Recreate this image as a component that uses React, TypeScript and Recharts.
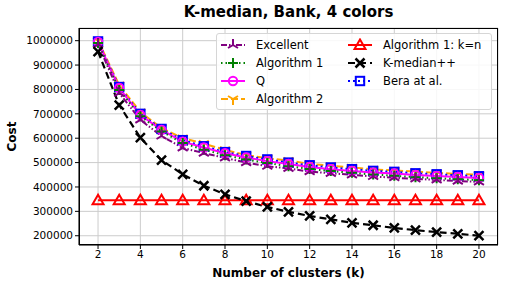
import React from "react";
import {
  LineChart,
  Line,
  XAxis,
  YAxis,
  CartesianGrid,
} from "recharts";

const FONT = "DejaVu Sans";

const clusters = [2, 3, 4, 5, 6, 7, 8, 9, 10, 11, 12, 13, 14, 15, 16, 17, 18, 19, 20];

const excellent = [985000, 785000, 675000, 609000, 560000, 539000, 519000, 500000, 485000, 476000, 463000, 456000, 450000, 443000, 438000, 433000, 429000, 424000, 421000];
const algorithm1 = [990000, 798000, 690000, 628000, 580000, 553000, 530000, 513000, 498000, 485000, 474000, 465000, 458000, 451000, 446000, 440000, 436000, 432000, 428000];
const qValues = [995000, 806000, 695000, 634000, 586000, 562000, 538000, 521000, 506000, 494000, 482000, 473000, 466000, 459000, 455000, 449000, 445000, 441000, 437000];
const algorithm2 = [1000000, 818000, 707000, 642000, 600000, 578000, 552000, 531000, 518000, 508000, 495000, 487000, 480000, 472000, 468000, 463000, 458000, 453000, 450000];
const algorithm1kn = [346000, 346000, 346000, 346000, 346000, 346000, 346000, 346000, 346000, 346000, 346000, 346000, 346000, 346000, 346000, 346000, 346000, 346000, 346000];
const kmedianpp = [955000, 736000, 602000, 510000, 452000, 405000, 370000, 342000, 318000, 298000, 281000, 267000, 253000, 243000, 232000, 223000, 215000, 208000, 200000];
const bera = [997000, 810000, 700000, 638000, 592000, 567000, 543000, 527000, 513000, 500000, 489000, 480000, 473000, 466000, 462000, 456000, 452000, 448000, 444000];

const xTicks = [2, 4, 6, 8, 10, 12, 14, 16, 18, 20];
const yTicks = [200000, 300000, 400000, 500000, 600000, 700000, 800000, 900000, 1000000];

const data = clusters.map((k, i) => ({
  k,
  excellent: excellent[i],
  algorithm1: algorithm1[i],
  q: qValues[i],
  algorithm2: algorithm2[i],
  algorithm1kn: algorithm1kn[i],
  kmedianpp: kmedianpp[i],
  bera: bera[i],
}));

type MarkerKind = "triUp" | "triDown" | "plus" | "circle" | "triangle" | "x" | "square";

function Marker({ kind, cx, cy, color }: { kind: MarkerKind; cx: number; cy: number; color: string }) {
  const s = 5;
  switch (kind) {
    case "triUp":
      return (
        <path
          d={`M${cx},${cy} L${cx},${cy - s - 1} M${cx},${cy} L${cx - s},${cy + s * 0.6} M${cx},${cy} L${cx + s},${cy + s * 0.6}`}
          stroke={color}
          strokeWidth={2}
          fill="none"
        />
      );
    case "triDown":
      return (
        <path
          d={`M${cx},${cy} L${cx},${cy + s + 1} M${cx},${cy} L${cx - s},${cy - s * 0.6} M${cx},${cy} L${cx + s},${cy - s * 0.6}`}
          stroke={color}
          strokeWidth={2}
          fill="none"
        />
      );
    case "plus":
      return (
        <path
          d={`M${cx - 5},${cy} L${cx + 5},${cy} M${cx},${cy - 5} L${cx},${cy + 5}`}
          stroke={color}
          strokeWidth={2}
          fill="none"
        />
      );
    case "circle":
      return <circle cx={cx} cy={cy} r={4.2} stroke={color} strokeWidth={2} fill="none" />;
    case "triangle":
      return (
        <path
          d={`M${cx},${cy - 5.5} L${cx - 5.5},${cy + 4} L${cx + 5.5},${cy + 4} Z`}
          stroke={color}
          strokeWidth={2}
          fill="none"
        />
      );
    case "x":
      return (
        <path
          d={`M${cx - 4.5},${cy - 4.5} L${cx + 4.5},${cy + 4.5} M${cx - 4.5},${cy + 4.5} L${cx + 4.5},${cy - 4.5}`}
          stroke={color}
          strokeWidth={2.5}
          fill="none"
        />
      );
    case "square":
      return <rect x={cx - 4.2} y={cy - 4.2} width={8.4} height={8.4} stroke={color} strokeWidth={2} fill="none" />;
  }
}

const series: { key: string; name: string; color: string; dash?: string; marker: MarkerKind; width: number }[] = [
  { key: "excellent", name: "Excellent", color: "#800080", dash: "6 2 1.5 2 1.5 2", marker: "triUp", width: 2 },
  { key: "algorithm1", name: "Algorithm 1", color: "#008000", dash: "1.5 3", marker: "plus", width: 2 },
  { key: "q", name: "Q", color: "#ff00ff", marker: "circle", width: 2 },
  { key: "algorithm2", name: "Algorithm 2", color: "#ffa500", dash: "7 3", marker: "triDown", width: 2 },
  { key: "algorithm1kn", name: "Algorithm 1: k=n", color: "#ff0000", marker: "triangle", width: 2 },
  { key: "kmedianpp", name: "K-median++", color: "#000000", dash: "7 4", marker: "x", width: 2.2 },
  { key: "bera", name: "Bera at al.", color: "#0000ff", dash: "2 3", marker: "square", width: 2 },
];

// drawing order: back to front
const drawOrder = ["algorithm2", "bera", "q", "algorithm1", "excellent", "algorithm1kn", "kmedianpp"];

function LegendHandle({ s }: { s: (typeof series)[number] }) {
  return (
    <svg width={26} height={14} style={{ display: "block", flex: "none" }}>
      <line x1={1} y1={7} x2={25} y2={7} stroke={s.color} strokeWidth={s.width} strokeDasharray={s.dash} />
      <Marker kind={s.marker} cx={13} cy={7} color={s.color} />
    </svg>
  );
}

function CustomLegend() {
  const col = (items: typeof series, w: number) => (
    <div style={{ width: w }}>
      {items.map((s) => (
        <div key={s.key} style={{ display: "flex", alignItems: "center", height: 18 }}>
          <LegendHandle s={s} />
          <span style={{ marginLeft: 10, fontSize: 11.5, whiteSpace: "nowrap" }}>{s.name}</span>
        </div>
      ))}
    </div>
  );
  return (
    <div
      style={{
        position: "absolute",
        left: 216,
        top: 33,
        width: 276,
        height: 77,
        boxSizing: "border-box",
        display: "flex",
        padding: "2px 0 0 3px",
        background: "rgba(255,255,255,0.85)",
        border: "1px solid #d6d6d6",
        borderRadius: 3,
        fontFamily: FONT,
        color: "#000",
      }}
    >
      {col(series.slice(0, 4), 127)}
      {col(series.slice(4), 140)}
    </div>
  );
}

export default function App() {
  return (
    <div style={{ position: "absolute", left: 0, top: 0, width: 509, height: 291, background: "#fff", fontFamily: FONT }}>
      <div
        style={{
          position: "absolute",
          left: 79,
          width: 419,
          top: 3,
          textAlign: "center",
          fontSize: 15,
          fontWeight: "bold",
        }}
      >
        K-median, Bank, 4 colors
      </div>
      <LineChart width={509} height={291} data={data} margin={{ top: 28, right: 11, bottom: 0, left: 0 }}>
        <CartesianGrid stroke="#cccccc" strokeWidth={1} />
        <XAxis
          dataKey="k"
          type="number"
          domain={[1.1, 20.9]}
          ticks={xTicks}
          allowDataOverflow
          height={46}
          stroke="#000"
          tickSize={4}
          tick={{ fontSize: 10.5, fill: "#000", fontFamily: FONT }}
          label={{
            value: "Number of clusters (k)",
            position: "insideBottom",
            offset: 14,
            style: { fontSize: 12, fontWeight: "bold", fill: "#000", fontFamily: FONT },
          }}
        />
        <YAxis
          type="number"
          domain={[162000, 1052000]}
          ticks={yTicks}
          interval={0}
          allowDataOverflow
          width={79}
          stroke="#000"
          tickSize={4}
          tick={{ fontSize: 10.5, fill: "#000", fontFamily: FONT }}
          label={{
            value: "Cost",
            angle: -90,
            position: "insideLeft",
            offset: 12,
            style: { fontSize: 12, fontWeight: "bold", fill: "#000", fontFamily: FONT, textAnchor: "middle" },
          }}
        />
        {drawOrder.map((key) => {
          const s = series.find((x) => x.key === key)!;
          return (
            <Line
              key={s.key}
              dataKey={s.key}
              name={s.name}
              stroke={s.color}
              strokeWidth={s.width}
              strokeDasharray={s.dash}
              isAnimationActive={false}
              dot={(p: any) => <Marker key={`${s.key}-${p.index}`} kind={s.marker} cx={p.cx} cy={p.cy} color={s.color} />}
              activeDot={false}
            />
          );
        })}
      </LineChart>
      <div
        style={{
          position: "absolute",
          left: 79,
          top: 28,
          width: 419,
          height: 217,
          boxSizing: "border-box",
          border: "1px solid #000",
          pointerEvents: "none",
        }}
      />
      <CustomLegend />
    </div>
  );
}
